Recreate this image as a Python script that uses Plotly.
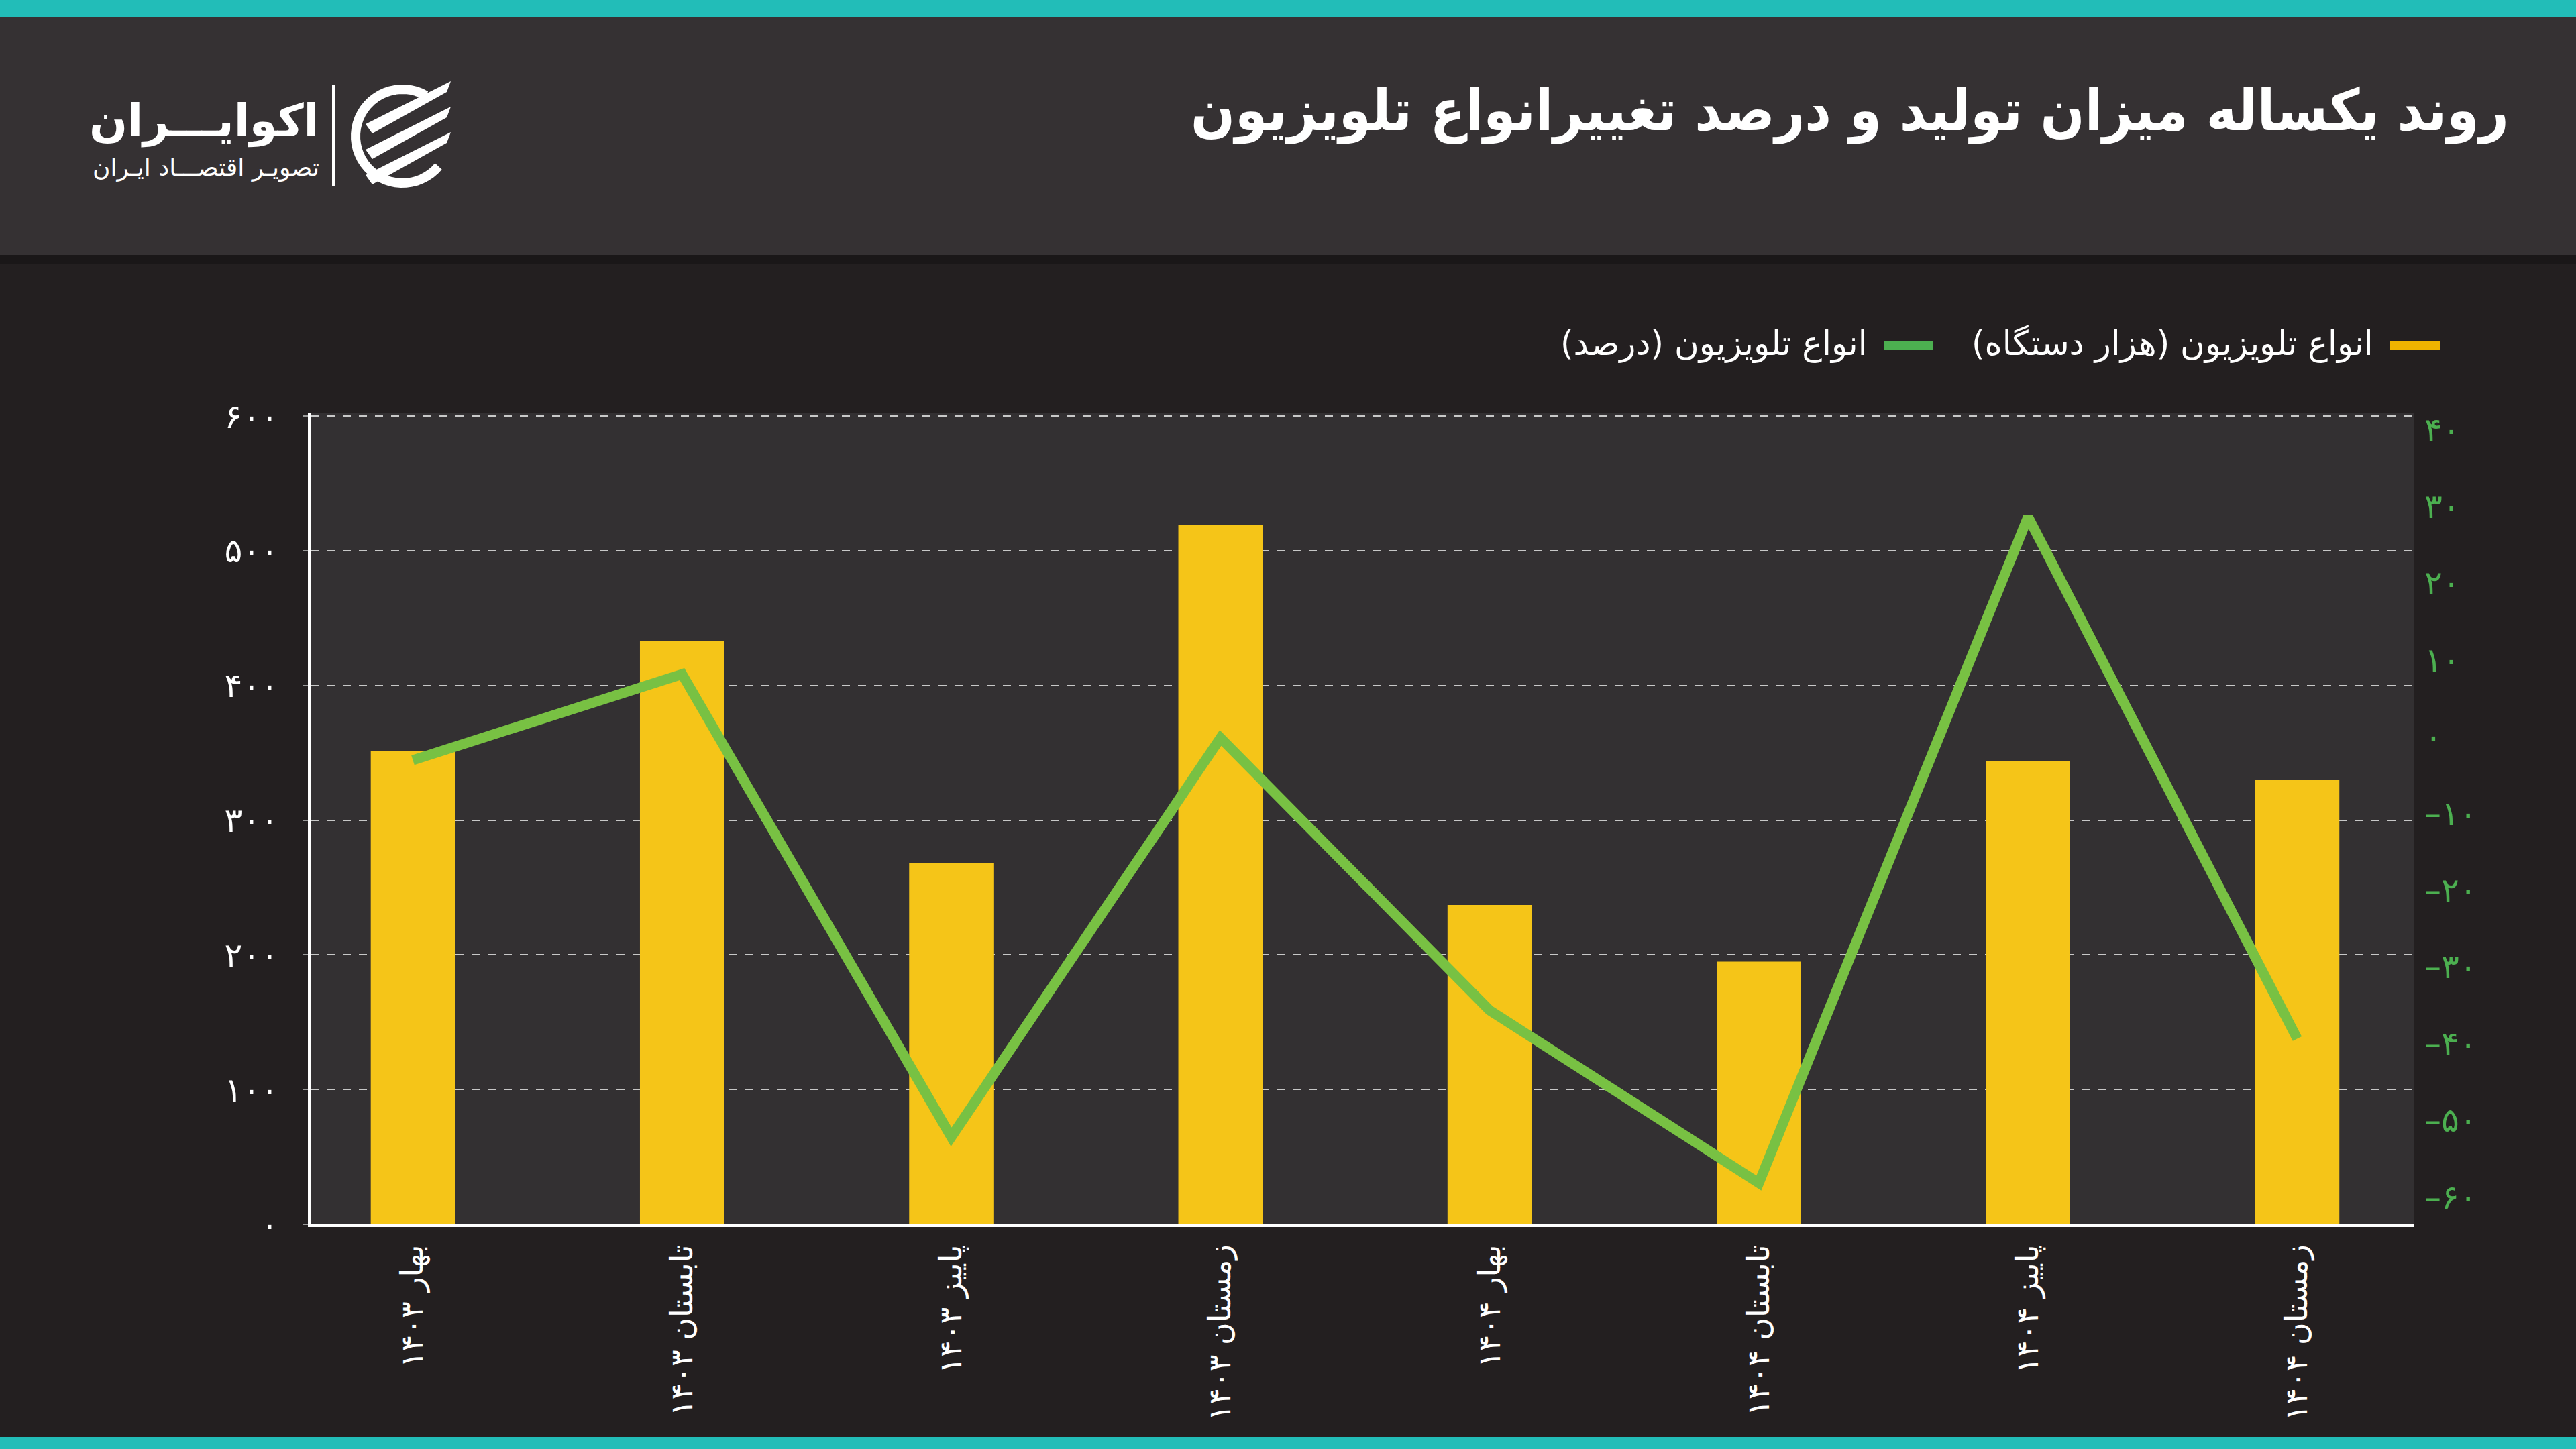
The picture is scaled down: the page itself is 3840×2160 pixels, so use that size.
import math
import plotly.graph_objects as go

W, H = 3840, 2160

# ---------------- data ----------------
seasons = ["بهار", "تابستان", "پاییز", "زمستان"]
years = ["۱۴۰۳", "۱۴۰۴"]
categories = [f"{s} {y}" for y in years for s in seasons]
production = [351, 433, 268, 519, 237, 195, 344, 330]          # هزار دستگاه
change_pct = [-3.1, 8.1, -52.2, -0.2, -35.7, -58.2, 28.6, -39.4]  # درصد
left_ticks = [0, 100, 200, 300, 400, 500, 600]
right_ticks = [-60, -50, -40, -30, -20, -10, 0, 10, 20, 30, 40]
series_names = ["انواع تلویزیون (هزار دستگاه)", "انواع تلویزیون (درصد)"]
title_text = "روند یکساله میزان تولید و درصد تغییرانواع تلویزیون"

FA = str.maketrans("0123456789-", "۰۱۲۳۴۵۶۷۸۹–")
def fa(n):
    return str(n).translate(FA)

# ---------------- colours ----------------
BG = "#231f20"
HEADER = "#353133"
PLOTBG = "#333032"
TEAL = "#22bdb8"
YELLOW = "#f5c518"
GREEN_LINE = "#78c143"
GREEN_TXT = "#4caf50"
FONT = "DejaVu Sans"
TITLE_FONT = "DejaVu Sans Condensed, DejaVu Sans"

def px(x):
    return x / W
def py(y):
    return 1 - y / H

fig = go.Figure()
fig.add_trace(go.Bar(
    x=categories, y=production, width=0.313, name=series_names[0],
    marker=dict(color=YELLOW, line=dict(width=0)), yaxis="y", showlegend=False,
))
fig.add_trace(go.Scatter(
    x=categories, y=change_pct, mode="lines", name=series_names[1],
    line=dict(color=GREEN_LINE, width=15), yaxis="y2", showlegend=False,
))

shapes = [
    dict(type="rect", xref="paper", yref="paper", x0=0, x1=1, y0=py(26), y1=1,
         fillcolor=TEAL, line=dict(width=0), layer="below"),
    dict(type="rect", xref="paper", yref="paper", x0=0, x1=1, y0=py(380), y1=py(26),
         fillcolor=HEADER, line=dict(width=0), layer="below"),
    dict(type="rect", xref="paper", yref="paper", x0=0, x1=1, y0=py(394), y1=py(380),
         fillcolor="#1a1718", line=dict(width=0), layer="below"),
    dict(type="rect", xref="paper", yref="paper", x0=0, x1=1, y0=0, y1=py(2142),
         fillcolor=TEAL, line=dict(width=0), layer="below"),
    # logo separator
    dict(type="line", xref="paper", yref="paper", x0=px(497), x1=px(497), y0=py(127), y1=py(277),
         line=dict(color="white", width=4)),
    # legend swatches
    dict(type="rect", xref="paper", yref="paper", x0=px(3563), x1=px(3637), y0=py(522), y1=py(508),
         fillcolor="#f0b400", line=dict(width=0)),
    dict(type="rect", xref="paper", yref="paper", x0=px(2809), x1=px(2882), y0=py(522), y1=py(508),
         fillcolor=GREEN_TXT, line=dict(width=0)),
]

# logo icon: ring arc + three slanted stripes
cx, cy, r = 600, 203, 70
arc = []
for i in range(0, 41):
    a = math.radians(60 + i * 6.5)
    arc.append((cx + r * math.cos(a), cy - r * math.sin(a)))
path = "M " + " L ".join(f"{px(x):.5f},{py(y):.5f}" for x, y in arc)
shapes.append(dict(type="path", xref="paper", yref="paper", path=path,
                   line=dict(color="white", width=14)))
for k in range(3):
    oy = -40 + k * 38
    pts = [(cx - 55, cy + oy + 22), (cx + 72, cy + oy - 42), (cx + 66, cy + oy - 26), (cx - 45, cy + oy + 36)]
    p = "M " + " L ".join(f"{px(x):.5f},{py(y):.5f}" for x, y in pts) + " Z"
    shapes.append(dict(type="path", xref="paper", yref="paper", path=p,
                       fillcolor="white", line=dict(width=0)))

RLM = "\u200f"
annotations = [
    dict(text="<b>" + title_text + "</b>", x=px(3742), y=py(165), xref="paper", yref="paper",
         xanchor="right", yanchor="middle", showarrow=False,
         font=dict(family=TITLE_FONT, size=86, color="white")),
    dict(text="<b>اکوایـــران</b>", x=px(478), y=py(180), xref="paper", yref="paper",
         xanchor="right", yanchor="middle", showarrow=False,
         font=dict(family=FONT, size=67, color="white")),
    dict(text="تصویـر اقتصـــاد ایـران", x=px(478), y=py(250), xref="paper", yref="paper",
         xanchor="right", yanchor="middle", showarrow=False,
         font=dict(family=FONT, size=36, color="white")),
    dict(text=series_names[0] + RLM, x=px(3540), y=py(512), xref="paper", yref="paper",
         xanchor="right", yanchor="middle", showarrow=False,
         font=dict(family=FONT, size=50, color="white")),
    dict(text=series_names[1] + RLM, x=px(2786), y=py(512), xref="paper", yref="paper",
         xanchor="right", yanchor="middle", showarrow=False,
         font=dict(family=FONT, size=50, color="white")),
]

fig.update_layout(
    width=W, height=H,
    margin=dict(l=0, r=0, t=0, b=0, pad=0, autoexpand=False),
    paper_bgcolor=BG, plot_bgcolor=PLOTBG,
    showlegend=False,
    shapes=shapes, annotations=annotations,
    font=dict(family=FONT, color="white"),
    xaxis=dict(
        domain=[px(463), px(3599)], range=[-0.38, 7.435], automargin=False,
        showline=True, linecolor="white", linewidth=4, showgrid=False, zeroline=False,
        ticks="", tickangle=-90, tickfont=dict(family=FONT, size=46, color="white"),
        ticklabelstandoff=8,
    ),
    yaxis=dict(
        domain=[py(1825), py(615)], range=[0, 602.5], automargin=False,
        showline=True, linecolor="white", linewidth=4, zeroline=False,
        ticks="outside", ticklen=8, tickcolor="#9a9a9a", tickwidth=2,
        showgrid=True, gridcolor="#c8c8c8", gridwidth=2, griddash="12px,12px",
        tickvals=left_ticks, ticktext=[fa(v) for v in left_ticks],
        tickfont=dict(family=FONT, size=50, color="white"), ticklabelstandoff=26,
    ),
    yaxis2=dict(
        overlaying="y", side="right", anchor="x", range=[-63.58, 42.19], automargin=False,
        showgrid=False, zeroline=False, showline=False, ticks="",
        tickvals=right_ticks, ticktext=[fa(v) for v in right_ticks],
        tickfont=dict(family=FONT, size=50, color=GREEN_TXT), ticklabelstandoff=14,
    ),
)

fig.write_html("out.html")
